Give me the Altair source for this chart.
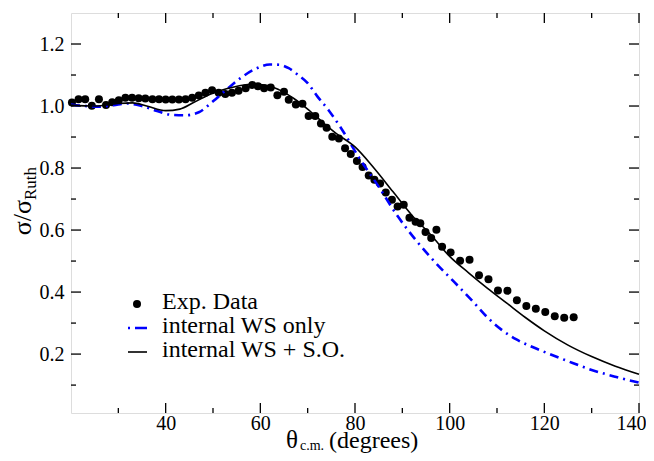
import altair as alt
import pandas as pd

# ---------------- data ----------------
exp_theta = [20.2, 21.6, 23.0, 24.4, 25.9, 27.4, 28.7, 30.1, 31.5, 32.9, 34.3, 35.7, 37.2, 38.6,
             40.0, 41.4, 42.8, 44.2, 45.6, 47.0, 48.4, 49.8, 51.2, 52.6, 54.0, 55.4, 56.9, 58.3,
             59.5, 60.8, 62.2, 63.6, 65.0, 66.0, 67.5, 68.9, 70.2, 71.6, 72.8, 74.0, 75.2, 76.6,
             77.9, 79.1, 80.4, 81.6, 82.9, 84.1, 85.3, 86.5, 87.8, 89.0, 90.3, 91.5, 92.8, 93.8,
             94.9, 96.1, 97.2, 98.4, 100.2, 102.2, 104.2, 106.2, 108.2, 110.2, 112.2, 114.2,
             116.2, 118.2, 120.2, 122.2, 124.2, 126.2]
exp_ratio = [1.011, 1.022, 1.022, 1.001, 1.022, 1.003, 1.012, 1.019, 1.027, 1.027, 1.025, 1.024,
             1.022, 1.022, 1.021, 1.021, 1.021, 1.022, 1.027, 1.034, 1.043, 1.051, 1.043, 1.039,
             1.043, 1.049, 1.057, 1.068, 1.064, 1.057, 1.060, 1.035, 1.046, 1.020, 1.005, 1.007,
             0.968, 0.968, 0.944, 0.930, 0.901, 0.895, 0.864, 0.845, 0.823, 0.803, 0.776, 0.762,
             0.750, 0.721, 0.698, 0.676, 0.682, 0.640, 0.627, 0.622, 0.594, 0.574, 0.601, 0.546,
             0.528, 0.501, 0.504, 0.454, 0.441, 0.405, 0.404, 0.374, 0.355, 0.346, 0.336, 0.322,
             0.317, 0.319]

ws_theta = [20, 23, 26, 29, 32, 35, 38, 41, 44, 47, 50, 53, 56, 59, 62, 64, 66, 68, 70, 72,
            74.5, 77, 81, 85, 89, 93, 97, 101, 105, 108, 111, 114, 117, 120, 125, 130, 135, 140]
ws_ratio = [1.005, 1.000, 0.998, 1.003, 1.008, 1.000, 0.985, 0.972, 0.970, 0.980, 1.015, 1.055,
            1.092, 1.120, 1.134, 1.133, 1.122, 1.100, 1.074, 1.032, 0.985, 0.930, 0.830, 0.740,
            0.645, 0.565, 0.495, 0.432, 0.368, 0.318, 0.278, 0.248, 0.226, 0.207, 0.177, 0.149,
            0.127, 0.108]

so_theta = [20, 25, 30, 33, 36, 40, 43, 46, 50, 54, 58, 61, 64, 67, 70, 73, 76, 80, 84, 88,
            92, 96, 100, 104, 108, 112, 116, 120, 125, 130, 135, 140]
so_ratio = [1.003, 1.000, 1.008, 1.010, 1.000, 0.985, 0.990, 1.012, 1.042, 1.060, 1.070, 1.068,
            1.052, 1.025, 0.990, 0.950, 0.912, 0.868, 0.800, 0.724, 0.648, 0.585, 0.515, 0.462,
            0.412, 0.365, 0.318, 0.275, 0.229, 0.192, 0.161, 0.135]

x_major = [40, 60, 80, 100, 120, 140]
x_minor = [30, 50, 70, 90, 110, 130]
y_major = [0.2, 0.4, 0.6, 0.8, 1.0, 1.2]
y_minor = [0.1, 0.3, 0.5, 0.7, 0.9, 1.1]

legend_labels = ["Exp. Data", "internal WS only", "internal WS + S.O."]

# ---------------- layout ----------------
W, H = 568, 400
FONT = "Liberation Serif"
BLUE = "#0000ff"

xs = alt.Scale(domain=[20, 140], nice=False, zero=False)
ys = alt.Scale(domain=[0.01, 1.3], nice=False, zero=False)

x_axis = alt.Axis(values=x_major, ticks=False, domain=False, grid=False, labelFont=FONT,
                  labelFontSize=20, labelColor="black", labelPadding=0, labelFlush=1,
                  labelFlushOffset=7, title=None, format="d")
y_axis = alt.Axis(values=y_major, ticks=False, domain=False, grid=False, labelFont=FONT,
                  labelFontSize=20, labelColor="black", labelPadding=7, labelFlush=False,
                  title=None, format=".1f")

exp_df = pd.DataFrame({"theta": exp_theta, "ratio": exp_ratio})
ws_df = pd.DataFrame({"theta": ws_theta, "ratio": ws_ratio})
so_df = pd.DataFrame({"theta": so_theta, "ratio": so_ratio})

X = alt.X("theta:Q", scale=xs, axis=x_axis)
Y = alt.Y("ratio:Q", scale=ys, axis=y_axis)

points = alt.Chart(exp_df).mark_circle(size=64, color="black", opacity=1).encode(x=X, y=Y)
ws_line = alt.Chart(ws_df).mark_line(color=BLUE, strokeWidth=2.6, strokeDash=[9, 5, 2, 5],
                                     interpolate="monotone").encode(x=X, y=Y)
so_line = alt.Chart(so_df).mark_line(color="black", strokeWidth=1.6,
                                     interpolate="monotone").encode(x=X, y=Y)

# inward ticks on all four sides
def xticks(vals, length):
    df = pd.DataFrame({"theta": vals})
    bot = alt.Chart(df).mark_rule(color="black", strokeWidth=1.3).encode(
        x=alt.X("theta:Q", scale=xs, axis=x_axis), y=alt.value(H), y2=alt.value(H - length))
    top = alt.Chart(df).mark_rule(color="black", strokeWidth=1.3).encode(
        x=alt.X("theta:Q", scale=xs, axis=x_axis), y=alt.value(0), y2=alt.value(length))
    return [bot, top]

def yticks(vals, length):
    df = pd.DataFrame({"ratio": vals})
    left = alt.Chart(df).mark_rule(color="black", strokeWidth=1.3).encode(
        y=alt.Y("ratio:Q", scale=ys, axis=y_axis), x=alt.value(0), x2=alt.value(length))
    right = alt.Chart(df).mark_rule(color="black", strokeWidth=1.3).encode(
        y=alt.Y("ratio:Q", scale=ys, axis=y_axis), x=alt.value(W), x2=alt.value(W - length))
    return [left, right]

ticks = xticks(x_major, 10) + xticks(x_minor, 5) + yticks(y_major, 10) + yticks(y_minor, 5)

# legend (manual)
anchor = pd.DataFrame({"k": [0]})
def txt(text, x, y, size, angle=0, align="left"):
    kw = dict(text=text, font=FONT, fontSize=size, color="black", align=align,
              baseline="alphabetic")
    if angle:
        kw["angle"] = angle
    return alt.Chart(anchor).mark_text(**kw).encode(x=alt.value(x), y=alt.value(y))

leg_dot = alt.Chart(anchor).mark_circle(size=64, color="black", opacity=1).encode(
    x=alt.value(66), y=alt.value(291))
leg_ws = alt.Chart(anchor).mark_rule(color=BLUE, strokeWidth=2.6, strokeDash=[2, 5, 12, 5]).encode(
    x=alt.value(57), x2=alt.value(77), y=alt.value(315))
leg_so = alt.Chart(anchor).mark_rule(color="black", strokeWidth=1.6).encode(
    x=alt.value(57), x2=alt.value(76), y=alt.value(339))
leg_txt = [txt(legend_labels[0], 91, 296, 24),
           txt(legend_labels[1], 91, 320, 24),
           txt(legend_labels[2], 91, 344, 24)]

# axis titles (with subscripts)
titles = [
    txt("θ", 215, 435, 25),
    txt("c.m.", 229, 437, 14),
    txt("(degrees)", 258, 435, 24),
    txt("σ/σ", -40, 187, 26, angle=270, align="right"),
    txt("Ruth", -35, 187, 17, angle=270, align="left"),
]

chart = alt.layer(
    *ticks, points, ws_line, so_line, leg_dot, leg_ws, leg_so, *leg_txt, *titles
).properties(
    width=W, height=H,
    padding={"left": 63, "top": 5, "right": 7, "bottom": 40},
    autosize=alt.AutoSizeParams(type="none"),
).configure_view(stroke="black", strokeWidth=1.5).configure(background="white")

chart.save("out.html", embed_options={"renderer": "svg", "actions": False})
